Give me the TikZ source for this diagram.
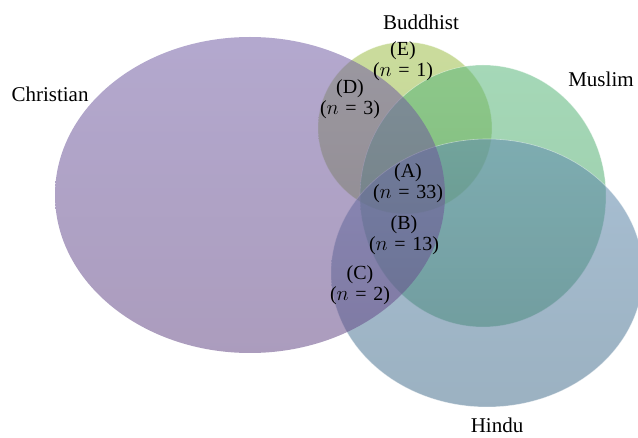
\documentclass[tikz,border=0pt]{standalone}
\usepackage{fontspec}
\setmainfont{Liberation Serif}
\definecolor{chrT}{HTML}{7561A6}
\definecolor{chrB}{HTML}{664B87}
\definecolor{budT}{HTML}{9FBF4B}
\definecolor{budB}{HTML}{92B440}
\definecolor{musT}{HTML}{5BB87C}
\definecolor{musB}{HTML}{49A164}
\definecolor{hinT}{HTML}{618BAF}
\definecolor{hinB}{HTML}{49718E}
\newcommand\eqsign{\hspace{0.33em}=\hspace{0.33em}}
\tikzset{
  setfill/.style={fill opacity=0.55},
  rim/.style={draw=white, draw opacity=0.45, line width=0.6pt},
  lbl/.style={font=\fontsize{21}{22}\selectfont, inner sep=0pt},
  reg/.style={font=\fontsize{20}{21}\selectfont, align=center, inner sep=0pt},
}
\begin{document}
\begin{tikzpicture}[x=1pt,y=-1pt]
\useasboundingbox (0,0) rectangle (638,438);
% sets (drawing order: Buddhist, Muslim, Hindu, Christian)
\shade[setfill, top color=budT, bottom color=budB] (405,128) ellipse [x radius=87pt, y radius=86pt];
\draw[rim] (405,128) ellipse [x radius=87pt, y radius=86pt];
\shade[setfill, top color=musT, bottom color=musB] (483,196) ellipse [x radius=123pt, y radius=131pt];
\draw[rim] (483,196) ellipse [x radius=123pt, y radius=131pt];
\shade[setfill, top color=hinT, bottom color=hinB] (487,273) ellipse [x radius=156pt, y radius=134pt];
\draw[rim] (487,273) ellipse [x radius=156pt, y radius=134pt];
\shade[setfill, top color=chrT, bottom color=chrB] (250,195) ellipse [x radius=195pt, y radius=158pt];
% set names
\node[lbl] (christian) at (50,94) {Christian};
\node[lbl] (buddhist) at (421,22) {Buddhist};
\node[lbl] (muslim) at (601,79) {Muslim};
\node[lbl] (hindu) at (497,425.5) {Hindu};
% region labels
\node[reg] (E) at (403,61.5) {(E)\\($n$\eqsign1)};
\node[reg] (D) at (350,99) {(D)\\($n$\eqsign3)};
\node[reg] (A) at (408,183.5) {(A)\\($n$\eqsign33)};
\node[reg] (B) at (404,235) {(B)\\($n$\eqsign13)};
\node[reg] (C) at (360,285) {(C)\\($n$\eqsign2)};
\end{tikzpicture}
\end{document}
